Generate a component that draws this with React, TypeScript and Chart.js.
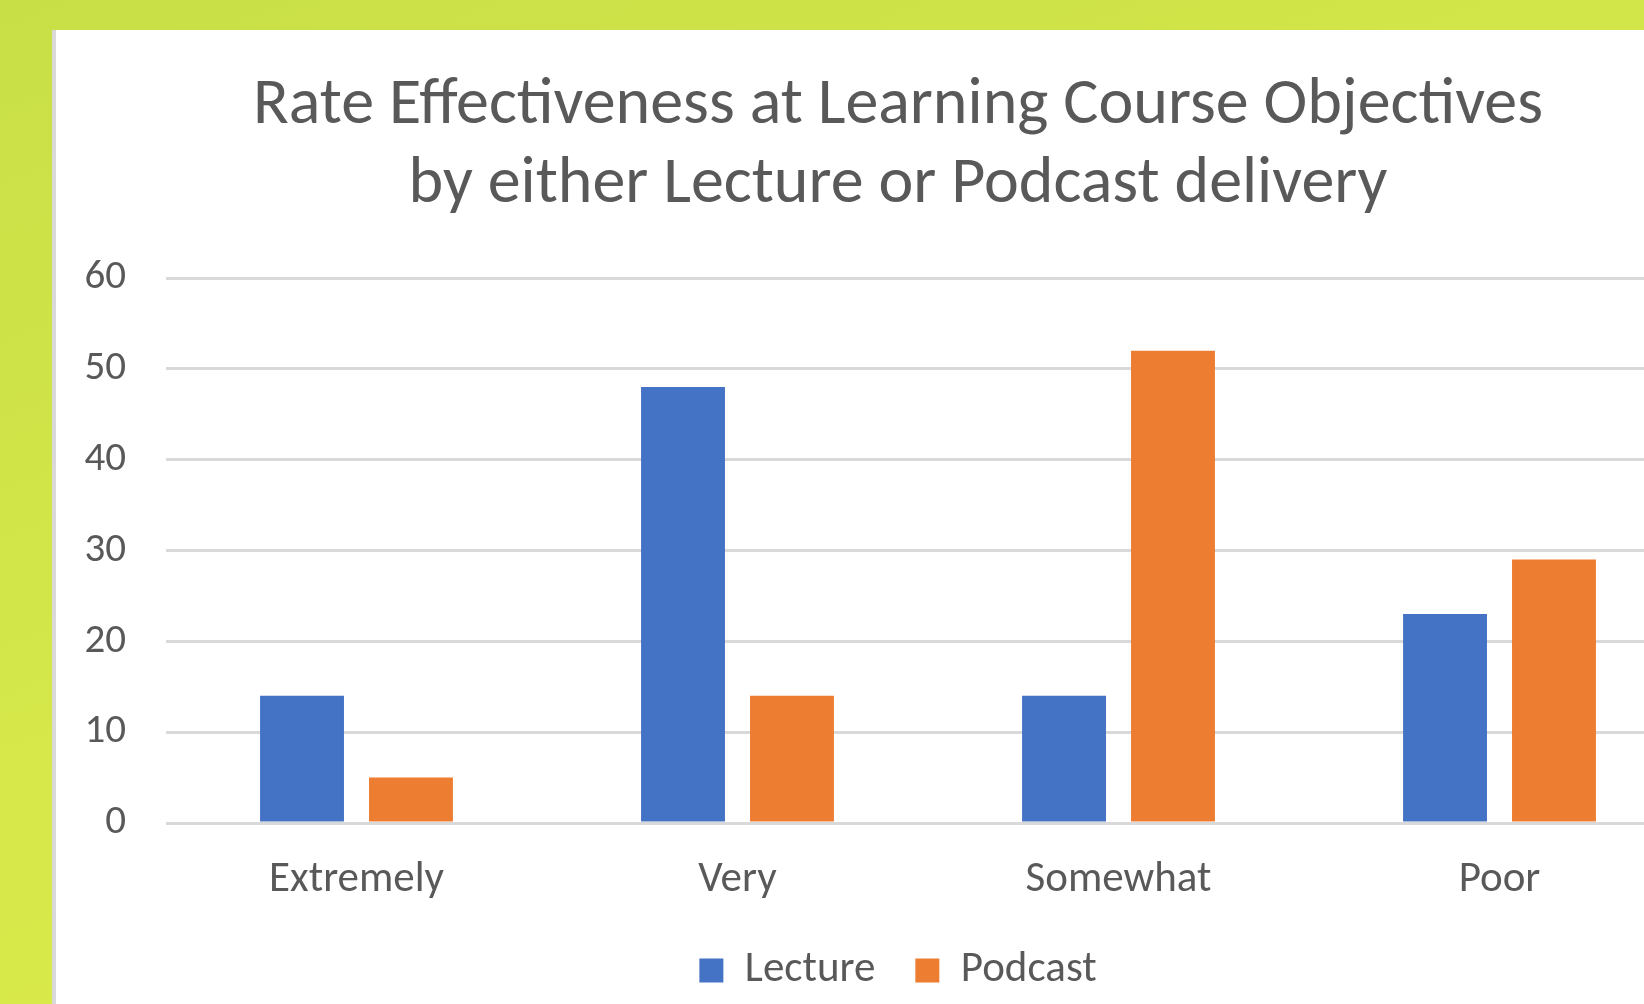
import React, { useEffect, useRef } from "react";
import { Chart, registerables } from "chart.js";

Chart.register(...registerables);

const categories = ["Extremely", "Very", "Somewhat", "Poor"];
const lectureValues = [14, 48, 14, 23];
const podcastValues = [5, 14, 52, 29];
const titleLines = [
  "Rate Effectiveness at Learning Course Objectives",
  "by either Lecture or Podcast delivery",
];
const yMin = 0;
const yMax = 60;
const yStep = 10;

const FONT = "Carlito, Lato, 'Liberation Sans', sans-serif";
const TEXT = "#595959";

export default function App() {
  const ref = useRef<HTMLCanvasElement | null>(null);
  useEffect(() => {
    const c = ref.current;
    if (!c) return;
    const chart = new Chart(c, {
      type: "bar",
      data: {
        labels: categories,
        datasets: [
          {
            label: "Lecture",
            data: lectureValues,
            backgroundColor: "#4472C4",
            barPercentage: 0.77,
            categoryPercentage: 0.572,
          },
          {
            label: "Podcast",
            data: podcastValues,
            backgroundColor: "#ED7D31",
            barPercentage: 0.77,
            categoryPercentage: 0.572,
          },
        ],
      },
      options: {
        animation: false,
        responsive: false,
        maintainAspectRatio: false,
        layout: { padding: { left: 20, right: 14, top: 0, bottom: 18 } },
        plugins: {
          title: {
            display: true,
            text: titleLines,
            color: TEXT,
            font: { family: FONT, size: 66, weight: "normal", lineHeight: 1.197 },
            padding: { top: 37, bottom: 53 },
          },
          legend: {
            display: true,
            position: "bottom",
            labels: {
              color: TEXT,
              font: { family: FONT, size: 43 },
              boxWidth: 24,
              boxHeight: 24,
              padding: 40,
            },
          },
          tooltip: { enabled: false },
        },
        scales: {
          x: {
            grid: { display: false },
            border: { display: false },
            ticks: { color: TEXT, font: { family: FONT, size: 43 }, padding: 23 },
            afterFit: (s: any) => {
              s.height = 86;
            },
          },
          y: {
            position: "left",
            min: yMin,
            max: yMax,
            grid: { color: "#D9D9D9", lineWidth: 3, drawTicks: false },
            border: { display: false },
            ticks: { stepSize: yStep, color: TEXT, font: { family: FONT, size: 41 }, padding: 40 },
            afterFit: (s: any) => {
              s.width = 90;
            },
          },
          yRight: {
            position: "right",
            display: true,
            min: yMin,
            max: yMax,
            grid: { display: false },
            border: { display: false },
            ticks: { display: false },
            afterFit: (s: any) => {
              s.width = 30;
            },
          },
        },
      },
    });
    return () => chart.destroy();
  }, []);

  return (
    <div
      style={{
        position: "fixed",
        left: 0,
        top: 0,
        width: 1644,
        height: 1004,
        overflow: "hidden",
        background: "linear-gradient(160deg, #c8df46 0%, #d6e84a 50%, #dfeb4a 100%)",
      }}
    >
      <div
        style={{
          position: "absolute",
          left: 52,
          top: 30,
          width: 1700,
          height: 1000,
          background: "#ffffff",
          borderLeft: "4px solid #d9d9d9",
          overflow: "hidden",
        }}
      >
        <canvas
          ref={ref}
          width={1678}
          height={990}
          style={{ position: "absolute", left: 0, top: 0, width: 1678, height: 990 }}
        />
      </div>
    </div>
  );
}
